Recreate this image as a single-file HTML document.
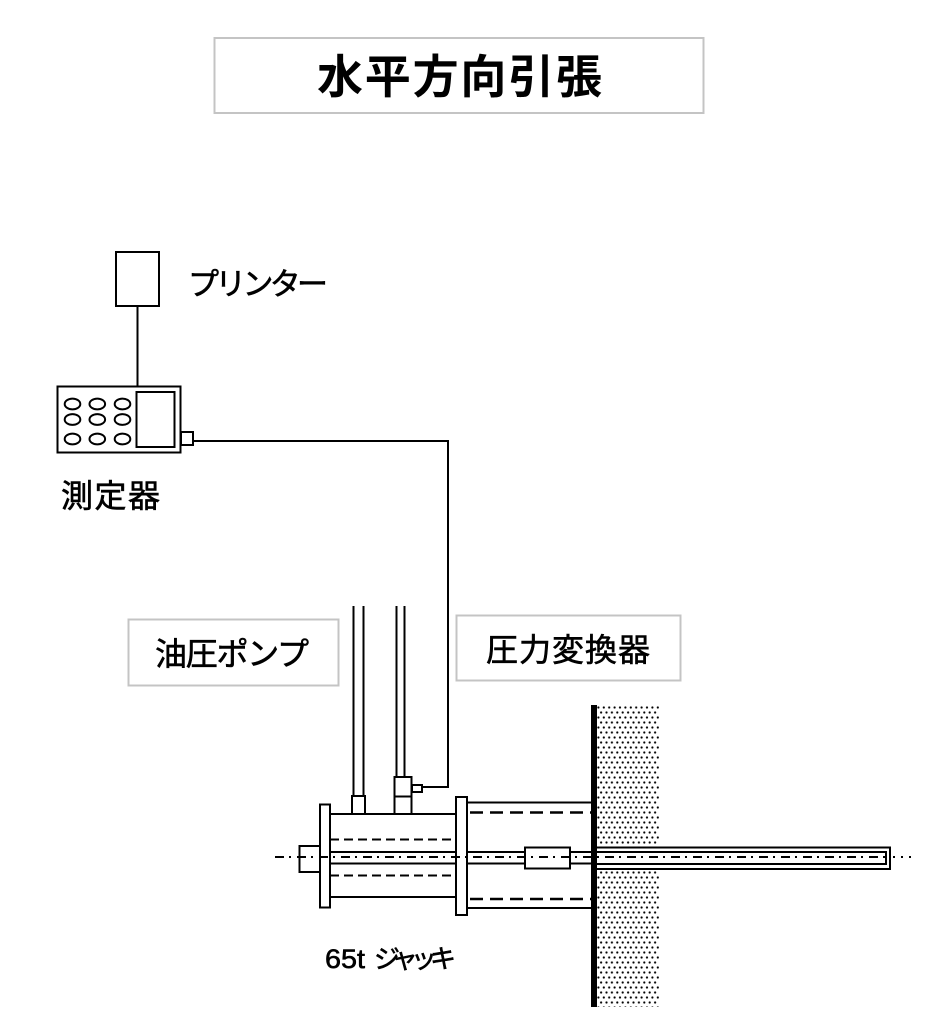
<!DOCTYPE html>
<html><head><meta charset="utf-8">
<style>
html,body{margin:0;padding:0;background:#fff;}
svg{display:block;}
text{font-family:"Liberation Sans","Noto Sans CJK JP",sans-serif;fill:#000;}
.lb{stroke:#000;stroke-width:0.6;}
</style></head>
<body>
<svg width="951" height="1024" viewBox="0 0 951 1024" xmlns="http://www.w3.org/2000/svg">
<defs>
<pattern id="dots" x="597" y="705" width="5.4" height="10" patternUnits="userSpaceOnUse">
<circle cx="1.4" cy="2.5" r="1.1" fill="#000"/>
<circle cx="4.1" cy="7.5" r="1.1" fill="#000"/>
</pattern>
</defs>
<rect width="951" height="1024" fill="#fff"/>

<!-- Title -->
<rect x="214.5" y="38" width="489" height="75" fill="none" stroke="#c4c4c4" stroke-width="2"/>
<text x="317" y="93" font-size="46" font-weight="bold" textLength="285" lengthAdjust="spacing">水平方向引張</text>

<!-- Printer -->
<rect x="116" y="252" width="43" height="54" fill="none" stroke="#000" stroke-width="2"/>
<text class="lb" x="188" y="295" font-size="31" textLength="140" lengthAdjust="spacing">プリンター</text>
<line x1="137.5" y1="306" x2="137.5" y2="386" stroke="#000" stroke-width="2"/>

<!-- Meter -->
<rect x="57.5" y="386.5" width="123" height="66" fill="none" stroke="#000" stroke-width="2"/>
<rect x="136.5" y="392" width="38" height="55" fill="none" stroke="#000" stroke-width="2"/>
<g fill="none" stroke="#000" stroke-width="2">
<ellipse cx="72.5" cy="404" rx="7.8" ry="5.4"/>
<ellipse cx="97.3" cy="404" rx="7.8" ry="5.4"/>
<ellipse cx="122.5" cy="404" rx="7.8" ry="5.4"/>
<ellipse cx="72.5" cy="419.5" rx="7.8" ry="5.4"/>
<ellipse cx="97.3" cy="419.5" rx="7.8" ry="5.4"/>
<ellipse cx="122.5" cy="419.5" rx="7.8" ry="5.4"/>
<ellipse cx="72.5" cy="439" rx="7.8" ry="5.4"/>
<ellipse cx="97.3" cy="439" rx="7.8" ry="5.4"/>
<ellipse cx="122.5" cy="439" rx="7.8" ry="5.4"/>
</g>
<rect x="181" y="432" width="12" height="13" fill="none" stroke="#000" stroke-width="2"/>
<polyline points="193,441 448,441 448,787 423,787" fill="none" stroke="#000" stroke-width="2"/>
<text class="lb" x="61" y="507" font-size="32" textLength="99" lengthAdjust="spacing">測定器</text>

<!-- Labels -->
<rect x="128.5" y="619.5" width="210" height="66" fill="none" stroke="#c4c4c4" stroke-width="2"/>
<text class="lb" x="155" y="665" font-size="32" textLength="154" lengthAdjust="spacing">油圧ポンプ</text>
<rect x="456.5" y="615.5" width="224" height="65" fill="none" stroke="#c4c4c4" stroke-width="2"/>
<text class="lb" x="486" y="661" font-size="32" textLength="164" lengthAdjust="spacing">圧力変換器</text>

<!-- Pipes -->
<g stroke="#000" stroke-width="2" fill="none">
<line x1="353.5" y1="606" x2="353.5" y2="796"/>
<line x1="363.5" y1="606" x2="363.5" y2="796"/>
<line x1="396.5" y1="606" x2="396.5" y2="777"/>
<line x1="404.5" y1="606" x2="404.5" y2="777"/>
<rect x="352" y="796" width="13" height="18"/>
<rect x="394.5" y="777" width="17" height="37"/>
<line x1="394.5" y1="796.5" x2="411.5" y2="796.5"/>
<rect x="412" y="785" width="10" height="7"/>
</g>

<!-- Jack -->
<g stroke="#000" stroke-width="2" fill="none">
<line x1="330" y1="814" x2="456" y2="814"/>
<line x1="330" y1="897" x2="456" y2="897"/>
<line x1="330" y1="852" x2="592" y2="852"/>
<line x1="330" y1="863.5" x2="592" y2="863.5"/>
<line x1="330" y1="839.5" x2="456" y2="839.5" stroke-dasharray="9 5"/>
<line x1="330" y1="875.5" x2="456" y2="875.5" stroke-dasharray="9 5"/>
<line x1="467" y1="802.5" x2="592" y2="802.5"/>
<line x1="467" y1="908" x2="592" y2="908"/>
<line x1="470" y1="812.5" x2="592" y2="812.5" stroke-width="2.5" stroke-dasharray="13 7"/>
<line x1="470" y1="899" x2="592" y2="899" stroke-width="2.5" stroke-dasharray="13 7"/>
<rect x="299.5" y="846" width="20.5" height="26" fill="#fff"/>
<rect x="320" y="804.5" width="10" height="103" fill="#fff"/>
<rect x="456" y="797" width="11" height="118" fill="#fff"/>
<rect x="525" y="847.5" width="45" height="21" fill="#fff"/>
</g>

<!-- Ground -->
<rect x="597" y="705" width="62" height="302" fill="url(#dots)"/>
<rect x="596" y="846" width="296" height="24" fill="#fff"/>
<g stroke="#000" stroke-width="2" fill="none">
<polyline points="596,847.5 890,847.5 890,869 596,869"/>
<polyline points="596,852 886,852 886,864 596,864"/>
</g>
<rect x="591" y="705" width="6" height="302" fill="#000"/>

<!-- Center line -->
<line x1="275" y1="857" x2="891" y2="857" stroke="#000" stroke-width="2" stroke-dasharray="9 5 2 6"/>
<line x1="893" y1="857" x2="912" y2="857" stroke="#000" stroke-width="2" stroke-dasharray="2 6"/>

<!-- Jack label -->
<text class="lb" x="325" y="968" font-size="27" stroke-width="0.4" textLength="40" lengthAdjust="spacingAndGlyphs">65t</text>
<text class="lb" x="374" y="968" font-size="26" textLength="82" lengthAdjust="spacing">ジャッキ</text>
</svg>
</body></html>
